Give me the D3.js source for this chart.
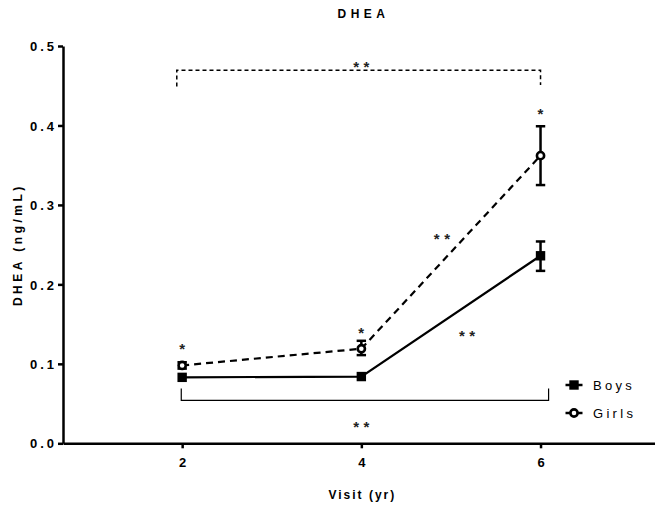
<!DOCTYPE html>
<html>
<head>
<meta charset="utf-8">
<script src="https://cdn.jsdelivr.net/npm/d3@7/dist/d3.min.js"></script>
<style>
  body { margin: 0; background: #fff; }
  text { font-family: "Liberation Sans", Arial, sans-serif; }
</style>
</head>
<body>
<svg id="chart" width="655" height="508"></svg>
<script>
// visits in years
var visits = [2, 4, 6];
var boysMean = [0.083, 0.084, 0.236];
var boysLow  = [0.083, 0.084, 0.217];
var boysHigh = [0.083, 0.084, 0.254];
var girlsMean = [0.098, 0.119, 0.362];
var girlsLow  = [0.094, 0.111, 0.325];
var girlsHigh = [0.102, 0.129, 0.399];
var yTicks = [0.0, 0.1, 0.2, 0.3, 0.4, 0.5];
// significance marks: [visit, value at centre of mark, label]
var stars = [
  [2, 0.1237, '*'], [4, 0.1435, '*'], [6, 0.4195, '*'],
  [4.9, 0.2613, '**'], [5.18, 0.1392, '**'],
  [4, 0.4783, '**'], [4, 0.0252, '**']
];

var svg = d3.select('#chart');
var x = d3.scaleLinear().domain([0.67, 7.3]).range([63, 657]);
var y = d3.scaleLinear().domain([0, 0.5]).range([443.3, 46]);

var bold = sz => 'bold ' + sz + 'px "Liberation Sans", Arial, sans-serif';

// title
svg.append('text')
  .attr('x', x(4)).attr('dx', 2.2).attr('y', 18)
  .attr('text-anchor', 'middle')
  .style('font', bold(12)).style('letter-spacing', '4.5px')
  .text('DHEA');

// y axis
var yAxis = svg.append('g')
  .attr('transform', 'translate(' + x.range()[0] + ',0)')
  .call(d3.axisLeft(y).tickValues(yTicks).tickFormat(d3.format('.1f')).tickSize(5).tickSizeOuter(0).tickPadding(1));
yAxis.select('.domain').attr('stroke-width', 2.5);
yAxis.selectAll('.tick line').attr('stroke-width', 2.5);
yAxis.selectAll('text').style('font', bold(13)).style('letter-spacing', '3px').attr('dy', '0.36em');

// x axis
var xAxis = svg.append('g')
  .attr('transform', 'translate(0,' + y(0) + ')')
  .call(d3.axisBottom(x).tickValues(visits).tickFormat(d3.format('d')).tickSize(5).tickSizeOuter(0).tickPadding(9));
xAxis.select('.domain').attr('stroke-width', 2.5);
xAxis.selectAll('.tick line').attr('stroke-width', 2.5);
xAxis.selectAll('text').style('font', bold(13));

// axis titles
svg.append('text')
  .attr('x', x(4)).attr('dx', 1).attr('y', 499)
  .attr('text-anchor', 'middle')
  .style('font', bold(12)).style('letter-spacing', '2px')
  .text('Visit (yr)');
svg.append('text')
  .attr('transform', 'translate(22,' + y(0.25) + ') rotate(-90)')
  .attr('text-anchor', 'middle')
  .style('font', bold(12)).style('letter-spacing', '3.5px')
  .text('DHEA (ng/mL)');

var line = d3.line().x(d => x(d[0])).y(d => y(d[1]));
var boys = visits.map((v, i) => [v, boysMean[i], boysLow[i], boysHigh[i]]);
var girls = visits.map((v, i) => [v, girlsMean[i], girlsLow[i], girlsHigh[i]]);

// lines
svg.append('path').datum(girls).attr('d', line)
  .attr('fill', 'none').attr('stroke', '#000').attr('stroke-width', 2.2).attr('stroke-dasharray', '7,5');
svg.append('path').datum(boys).attr('d', line)
  .attr('fill', 'none').attr('stroke', '#000').attr('stroke-width', 2.2);

// error bars
function errorBars(data) {
  var g = svg.append('g').attr('stroke', '#000').attr('stroke-width', 2.5);
  data.filter(d => d[3] - d[2] > 0.001).forEach(function (d) {
    g.append('line').attr('x1', x(d[0])).attr('x2', x(d[0])).attr('y1', y(d[2])).attr('y2', y(d[3]));
    g.append('line').attr('x1', x(d[0]) - 4.7).attr('x2', x(d[0]) + 4.7).attr('y1', y(d[2])).attr('y2', y(d[2]));
    g.append('line').attr('x1', x(d[0]) - 4.7).attr('x2', x(d[0]) + 4.7).attr('y1', y(d[3])).attr('y2', y(d[3]));
  });
}
errorBars(girls);
errorBars(boys);

// markers
svg.append('g').selectAll('rect').data(boys).join('rect')
  .attr('x', d => x(d[0]) - 4.7).attr('y', d => y(d[1]) - 4.7)
  .attr('width', 9.4).attr('height', 9.4).attr('fill', '#000');
svg.append('g').selectAll('circle').data(girls).join('circle')
  .attr('cx', d => x(d[0])).attr('cy', d => y(d[1])).attr('r', 3.6)
  .attr('fill', '#fff').attr('stroke', '#000').attr('stroke-width', 2.6);

// top dashed bracket (2 vs 6, girls)
var topPath = d3.path();
topPath.moveTo(x(1.94), y(0.449));
topPath.lineTo(x(1.94), y(0.4695));
topPath.lineTo(x(6), y(0.4695));
topPath.lineTo(x(6), y(0.451));
svg.append('path').attr('d', topPath.toString())
  .attr('fill', 'none').attr('stroke', '#000').attr('stroke-width', 1.5).attr('stroke-dasharray', '4,3');

// bottom bracket (2 vs 6, boys)
var botPath = d3.path();
botPath.moveTo(x(1.99), y(0.069));
botPath.lineTo(x(1.99), y(0.054));
botPath.lineTo(x(6.09), y(0.054));
botPath.lineTo(x(6.09), y(0.069));
svg.append('path').attr('d', botPath.toString())
  .attr('fill', 'none').attr('stroke', '#000').attr('stroke-width', 1.2);

// asterisks
svg.append('g').selectAll('text').data(stars).join('text')
  .attr('x', d => x(d[0])).attr('dx', 2.2).attr('y', d => y(d[1])).attr('dy', '0.58em')
  .attr('text-anchor', 'middle')
  .style('font', bold(15)).style('letter-spacing', '4.5px').style('fill', '#222')
  .text(d => d[2]);

// legend
var legend = svg.append('g').attr('transform', 'translate(574,385)');
var legendItems = ['Boys', 'Girls'];
legendItems.forEach(function (name, i) {
  var g = legend.append('g').attr('transform', 'translate(0,' + i * 28 + ')');
  g.append('line').attr('x1', -8.5).attr('x2', 8.5).attr('stroke', '#000').attr('stroke-width', 2.5);
  if (i === 0) {
    g.append('rect').attr('x', -4.7).attr('y', -4.7).attr('width', 9.4).attr('height', 9.4).attr('fill', '#000');
  } else {
    g.append('circle').attr('r', 3.6).attr('fill', '#fff').attr('stroke', '#000').attr('stroke-width', 2.6);
  }
  g.append('text').attr('x', 19).attr('dy', '0.36em')
    .style('font', '13px "Liberation Sans", Arial, sans-serif').style('letter-spacing', '3.3px')
    .text(name);
});
</script>
</body>
</html>
